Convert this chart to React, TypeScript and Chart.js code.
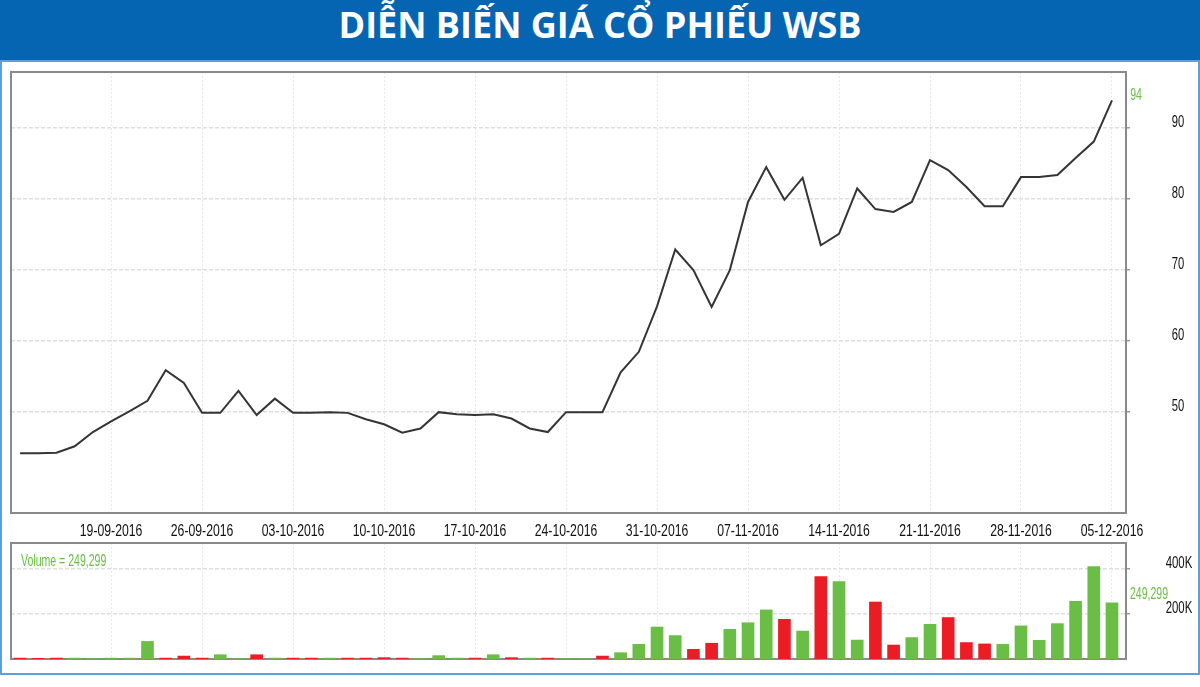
import React, { useEffect, useRef } from "react";
import { Chart, registerables } from "chart.js";

Chart.register(...registerables);

const TITLE = "DIỄN BIẾN GIÁ CỔ PHIẾU WSB";

const dates = [
  "12-09-2016", "13-09-2016", "14-09-2016", "15-09-2016", "16-09-2016",
  "19-09-2016", "20-09-2016", "21-09-2016", "22-09-2016", "23-09-2016",
  "26-09-2016", "27-09-2016", "28-09-2016", "29-09-2016", "30-09-2016",
  "03-10-2016", "04-10-2016", "05-10-2016", "06-10-2016", "07-10-2016",
  "10-10-2016", "11-10-2016", "12-10-2016", "13-10-2016", "14-10-2016",
  "17-10-2016", "18-10-2016", "19-10-2016", "20-10-2016", "21-10-2016",
  "24-10-2016", "25-10-2016", "26-10-2016", "27-10-2016", "28-10-2016",
  "31-10-2016", "01-11-2016", "02-11-2016", "03-11-2016", "04-11-2016",
  "07-11-2016", "08-11-2016", "09-11-2016", "10-11-2016", "11-11-2016",
  "14-11-2016", "15-11-2016", "16-11-2016", "17-11-2016", "18-11-2016",
  "21-11-2016", "22-11-2016", "23-11-2016", "24-11-2016", "25-11-2016",
  "28-11-2016", "29-11-2016", "30-11-2016", "01-12-2016", "02-12-2016",
  "05-12-2016",
];

const prices = [
  44.2, 44.2, 44.3, 45.2, 47.2,
  48.7, 50.1, 51.6, 55.9, 54.1,
  49.9, 49.9, 53.0, 49.6, 51.9,
  49.9, 49.9, 50.0, 49.9, 49.0,
  48.3, 47.1, 47.7, 50.0, 49.7,
  49.6, 49.7, 49.1, 47.7, 47.2,
  50.0, 50.0, 50.0, 55.6, 58.5,
  64.9, 72.9, 70.0, 64.8, 70.0,
  79.6, 84.5, 79.9, 83.0, 73.5,
  75.1, 81.5, 78.6, 78.2, 79.6,
  85.5, 84.1, 81.7, 79.0, 79.0,
  83.1, 83.1, 83.4, 85.8, 88.1,
  93.9,
];

const volumes = [
  4000, 3000, 4000, 4000, 2000,
  4000, 4000, 78000, 4000, 13000,
  4000, 19000, 2000, 19000, 4000,
  4000, 4000, 4000, 4000, 4000,
  6000, 4000, 2000, 15000, 4000,
  4000, 19000, 6000, 4000, 4000,
  2000, 2000, 13000, 28000, 65000,
  142000, 104000, 43000, 70000, 132000,
  161000, 218000, 176000, 124000, 366000,
  344000, 84000, 253000, 62000, 95000,
  154000, 184000, 73000, 67000, 65000,
  147000, 83000, 157000, 256000, 410000,
  249299,
];

// g = green (up), r = red (down)
const volumeDir = [
  "r", "r", "r", "g", "g",
  "g", "g", "g", "r", "r",
  "r", "g", "g", "r", "g",
  "r", "r", "g", "r", "r",
  "r", "r", "g", "g", "g",
  "r", "g", "r", "g", "r",
  "g", "g", "r", "g", "g",
  "g", "g", "r", "r", "g",
  "g", "g", "r", "g", "r",
  "g", "g", "r", "r", "g",
  "g", "r", "r", "r", "g",
  "g", "g", "g", "g", "g",
  "g",
];

const dateTickIndex = [5, 10, 15, 20, 25, 30, 35, 40, 45, 50, 55, 60];
const priceTicks = [50, 60, 70, 80, 90];
const volumeTicks = [200000, 400000];
const volumeTickLabels = ["200K", "400K"];

const GREEN = "#6abd45";
const RED = "#ec1c24";
const LABEL_FONT = "17px 'Liberation Sans', Arial, sans-serif";

function drawNarrow(
  ctx: CanvasRenderingContext2D,
  text: string,
  x: number,
  y: number,
  sx: number,
  color: string,
  align: CanvasTextAlign = "center"
) {
  ctx.save();
  ctx.translate(x, y);
  ctx.scale(sx, 1);
  ctx.fillStyle = color;
  ctx.font = LABEL_FONT;
  ctx.textAlign = align;
  ctx.textBaseline = "middle";
  ctx.fillText(text, 0, 0);
  ctx.restore();
}

function drawFrame(chart: any) {
  const { ctx, chartArea: ca } = chart;
  ctx.save();
  ctx.strokeStyle = "#8a8a8a";
  ctx.lineWidth = 2;
  ctx.strokeRect(ca.left, ca.top, ca.right - ca.left, ca.bottom - ca.top);
  ctx.restore();
}

const X_MIN = -0.5;
const X_MAX = 60.77;

export default function App() {
  const priceRef = useRef<HTMLCanvasElement>(null);
  const volRef = useRef<HTMLCanvasElement>(null);

  useEffect(() => {
    const xScale = (height: number) => ({
      type: "linear" as const,
      min: X_MIN,
      max: X_MAX,
      offset: false,
      afterBuildTicks: (s: any) => {
        s.ticks = dateTickIndex.map((v) => ({ value: v }));
      },
      afterFit: (s: any) => {
        s.height = height;
      },
      ticks: { display: false },
      grid: { color: "#e8e8e8", lineWidth: 1, drawTicks: false, offset: false },
      border: { display: false, dash: [2, 2] },
    });

    const priceChart = new Chart(priceRef.current!, {
      type: "line",
      data: {
        datasets: [
          {
            data: prices.map((p, i) => ({ x: i, y: p })),
            borderColor: "#353535",
            borderWidth: 2,
            pointRadius: 0,
            tension: 0,
            fill: false,
          },
        ],
      },
      options: {
        responsive: false,
        animation: false,
        layout: { padding: { top: 10, left: 11, right: 0, bottom: 0 } },
        plugins: { legend: { display: false }, tooltip: { enabled: false } },
        scales: {
          x: xScale(27) as any,
          y: {
            position: "right",
            min: 35.8,
            max: 97.9,
            afterBuildTicks: (s: any) => {
              s.ticks = priceTicks.map((v) => ({ value: v }));
            },
            afterFit: (s: any) => {
              s.width = 74;
            },
            ticks: { display: false },
            grid: { color: "#dedede", lineWidth: 1.5, tickLength: 4, tickColor: "#9a9a9a" },
            border: { display: false, dash: [4, 2] },
          },
        },
      },
      plugins: [
        {
          id: "priceDecor",
          afterDraw(chart: any) {
            const { ctx, chartArea: ca, scales } = chart;
            drawFrame(chart);
            priceTicks.forEach((v) =>
              drawNarrow(ctx, String(v), 1178, scales.y.getPixelForValue(v) - 6, 0.66, "#111")
            );
            dateTickIndex.forEach((i) =>
              drawNarrow(ctx, dates[i], scales.x.getPixelForValue(i), ca.bottom + 18, 0.72, "#111")
            );
            const last = prices[prices.length - 1];
            drawNarrow(
              ctx,
              String(Math.round(last)),
              1136,
              scales.y.getPixelForValue(last) - 5,
              0.62,
              GREEN
            );
          },
        },
      ],
    });

    const lastVol = volumes[volumes.length - 1];
    const lastVolText = lastVol.toLocaleString("en-US");

    const volChart = new Chart(volRef.current!, {
      type: "bar",
      data: {
        datasets: [
          {
            data: volumes.map((v, i) => ({ x: i, y: v })),
            backgroundColor: volumeDir.map((d) => (d === "g" ? GREEN : RED)),
            barThickness: 12,
            borderWidth: 0,
          },
        ],
      },
      options: {
        responsive: false,
        animation: false,
        layout: { padding: { top: 3, left: 11, right: 0, bottom: 0 } },
        plugins: { legend: { display: false }, tooltip: { enabled: false } },
        scales: {
          x: xScale(13) as any,
          y: {
            position: "right",
            min: 0,
            max: 515000,
            afterBuildTicks: (s: any) => {
              s.ticks = volumeTicks.map((v) => ({ value: v }));
            },
            afterFit: (s: any) => {
              s.width = 74;
            },
            ticks: { display: false },
            grid: { color: "#dedede", lineWidth: 1.5, tickLength: 4, tickColor: "#9a9a9a" },
            border: { display: false, dash: [4, 2] },
          },
        },
      },
      plugins: [
        {
          id: "volDecor",
          beforeDatasetsDraw(chart: any) {
            drawFrame(chart);
          },
          afterDraw(chart: any) {
            const { ctx, chartArea: ca, scales } = chart;
            volumeTicks.forEach((v, k) =>
              drawNarrow(ctx, volumeTickLabels[k], 1179, scales.y.getPixelForValue(v) - 6, 0.67, "#111")
            );
            drawNarrow(ctx, lastVolText, 1149, scales.y.getPixelForValue(lastVol) - 9, 0.62, GREEN);
            drawNarrow(ctx, "Volume = " + lastVolText, ca.left + 10, ca.top + 18, 0.62, GREEN, "left");
          },
        },
      ],
    });

    return () => {
      priceChart.destroy();
      volChart.destroy();
    };
  }, []);

  return (
    <div
      style={{
        position: "absolute",
        left: 0,
        top: 0,
        width: 1200,
        height: 687,
        background: "#ffffff",
        overflow: "hidden",
      }}
    >
      <div
        style={{
          position: "absolute",
          left: 0,
          top: 0,
          width: 1200,
          height: 60,
          background: "#0565b2",
          color: "#ffffff",
          fontFamily: "'Open Sans', 'Noto Sans', sans-serif",
          fontWeight: 700,
          fontSize: 36,
          lineHeight: "50px",
          textAlign: "center",
        }}
      >
        {TITLE}
      </div>
      <div
        style={{
          position: "absolute",
          left: 0,
          top: 60,
          width: 1200,
          height: 615,
          boxSizing: "border-box",
          border: "2px solid #5b9fdc",
        }}
      />
      <canvas
        ref={priceRef}
        width={1200}
        height={478}
        style={{ position: "absolute", left: 0, top: 62, width: 1200, height: 478 }}
      />
      <canvas
        ref={volRef}
        width={1200}
        height={132}
        style={{ position: "absolute", left: 0, top: 540, width: 1200, height: 132 }}
      />
    </div>
  );
}
